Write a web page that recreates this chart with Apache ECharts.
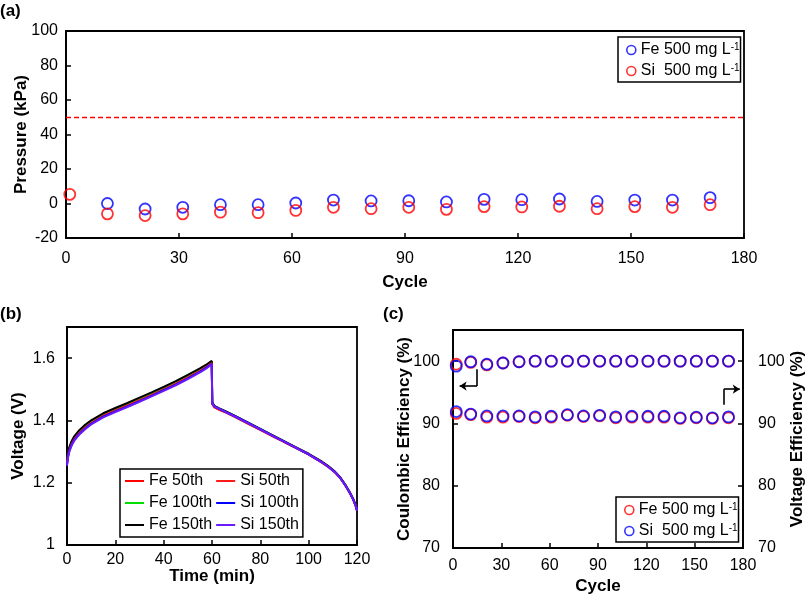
<!DOCTYPE html>
<html>
<head>
<meta charset="utf-8">
<script src="https://cdn.jsdelivr.net/npm/echarts@6/dist/echarts.min.js"></script>
<style>
  html, body { margin: 0; padding: 0; background: #fff; }
  .panel { position: absolute; left: 0; top: 0; width: 807px; height: 598px; }
</style>
</head>
<body>
<div id="pressure" class="panel"></div>
<div id="voltage" class="panel"></div>
<div id="efficiency" class="panel"></div>
<script>
// (a) pressure per cycle (Fe has no visible point at cycle 1)
const pressureCycles = [1, 11, 21, 31, 41, 51, 61, 71, 81, 91, 101, 111, 121, 131, 141, 151, 161, 171];
const pressureFe = [null, 0.0, -3.2, -2.2, -0.7, -0.7, 0.3, 2.0, 1.5, 1.6, 0.9, 2.4, 2.2, 2.6, 1.2, 2.0, 2.0, 3.4];
const pressureSi = [5.3, -6.0, -7.0, -6.0, -5.0, -5.3, -4.0, -2.2, -3.0, -2.2, -3.4, -1.8, -2.0, -1.6, -3.0, -1.8, -2.2, -0.7];
const pressureLimit = 50;

// (b) charge / discharge curves
const timeMin = [0, 0.5, 1, 2, 3, 5, 7.5, 10, 15, 20, 25, 30, 35, 40, 45, 50, 55, 58, 59.9,
  60.1, 61, 63, 66, 70, 75, 80, 85, 90, 95, 100, 105, 108, 111, 113, 115, 117, 118.5, 119.5, 120];
const fe50 = [1.266, 1.293, 1.310, 1.330, 1.344, 1.363, 1.381, 1.396, 1.419, 1.436, 1.452, 1.469, 1.486, 1.504, 1.522, 1.542, 1.563, 1.577, 1.587,
  1.452, 1.442, 1.434, 1.424, 1.409, 1.389, 1.370, 1.350, 1.330, 1.310, 1.290, 1.267, 1.251, 1.232, 1.215, 1.193, 1.167, 1.144, 1.124, 1.110];
const fe100 = [1.268, 1.295, 1.312, 1.332, 1.346, 1.365, 1.383, 1.398, 1.421, 1.438, 1.454, 1.471, 1.488, 1.506, 1.524, 1.544, 1.565, 1.579, 1.589,
  1.457, 1.446, 1.438, 1.427, 1.412, 1.392, 1.372, 1.352, 1.332, 1.312, 1.292, 1.269, 1.253, 1.234, 1.217, 1.195, 1.169, 1.146, 1.126, 1.111];
const fe150 = [1.272, 1.298, 1.315, 1.335, 1.349, 1.368, 1.386, 1.400, 1.423, 1.440, 1.456, 1.473, 1.490, 1.508, 1.526, 1.546, 1.567, 1.581, 1.591,
  1.458, 1.447, 1.439, 1.428, 1.413, 1.393, 1.373, 1.353, 1.333, 1.313, 1.293, 1.270, 1.254, 1.235, 1.218, 1.196, 1.170, 1.147, 1.127, 1.112];
const si50 = [1.262, 1.289, 1.306, 1.326, 1.340, 1.359, 1.377, 1.392, 1.415, 1.432, 1.448, 1.465, 1.482, 1.500, 1.518, 1.538, 1.559, 1.574, 1.584,
  1.453, 1.443, 1.435, 1.425, 1.410, 1.390, 1.370, 1.350, 1.330, 1.311, 1.291, 1.268, 1.252, 1.233, 1.216, 1.194, 1.168, 1.145, 1.125, 1.110];
const si100 = [1.258, 1.286, 1.303, 1.323, 1.337, 1.356, 1.374, 1.389, 1.412, 1.429, 1.445, 1.462, 1.479, 1.497, 1.515, 1.535, 1.556, 1.571, 1.581,
  1.455, 1.445, 1.437, 1.426, 1.411, 1.391, 1.371, 1.351, 1.331, 1.311, 1.291, 1.268, 1.252, 1.233, 1.216, 1.194, 1.168, 1.145, 1.125, 1.111];
const si150 = [1.255, 1.284, 1.301, 1.321, 1.335, 1.354, 1.372, 1.387, 1.410, 1.427, 1.443, 1.460, 1.477, 1.495, 1.513, 1.533, 1.554, 1.569, 1.580,
  1.455, 1.445, 1.437, 1.426, 1.411, 1.391, 1.371, 1.351, 1.331, 1.311, 1.291, 1.268, 1.252, 1.233, 1.216, 1.194, 1.168, 1.145, 1.125, 1.111];

// (c) efficiencies per cycle
const effCycles = [2, 11, 21, 31, 41, 51, 61, 71, 81, 91, 101, 111, 121, 131, 141, 151, 161, 171];
const ceFe = [99.5, 99.8, 99.4, 99.7, 99.9, 100, 100, 100, 100, 100, 100, 100, 100, 100, 100, 100, 100, 100];
const ceSi = [99.2, 99.9, 99.5, 99.7, 99.9, 100, 100, 100, 100, 100, 100, 100, 100, 100, 100, 100, 100, 100];
const veFe = [91.6, 91.4, 91.0, 91.0, 91.1, 90.9, 91.0, 91.3, 91.1, 91.2, 90.9, 91.0, 91.0, 91.0, 90.8, 90.9, 90.8, 90.9];
const veSi = [91.9, 91.5, 91.2, 91.2, 91.2, 91.05, 91.15, 91.4, 91.2, 91.3, 91.05, 91.15, 91.15, 91.15, 90.9, 91.0, 90.9, 91.05];
// arrow guides in (c), in data units: [cycle, %]
const ceArrow = [[14.9, 98.7], [14.9, 96.0], [4.1, 96.0]];
const veArrow = [[168.1, 93.0], [168.1, 95.5], [178, 95.5]];

const FONT = '"Liberation Sans", Arial, sans-serif';
const BLUE = '#0000ff';
const RED = '#ff0000';

function axis({ min, max, interval, name, nameGap, margin, position, hideMax }) {
  return {
    type: 'value',
    position,
    min,
    max,
    interval,
    name,
    nameGap,
    nameMoveOverlap: false,
    nameLocation: 'middle',
    nameTextStyle: { color: '#000', fontSize: 17, fontWeight: 'bold', fontFamily: FONT },
    axisLine: { show: true, onZero: false, lineStyle: { color: '#000', width: 1.8 } },
    axisTick: { show: true, inside: true, length: 5, lineStyle: { color: '#000', width: 1.5 } },
    axisLabel: { color: '#000', fontSize: 16, fontFamily: FONT, margin, showMaxLabel: !hideMax },
    splitLine: { show: false },
  };
}

function frame(left, top, width, height) {
  return { left, top, width, height, show: true, borderColor: '#000', borderWidth: 1.8 };
}

function panelTag(text, left, top) {
  return {
    type: 'text', left, top,
    style: { text, font: 'bold 17px ' + FONT, fill: '#000' },
  };
}

function circles(name, xs, ys, color, extra) {
  return Object.assign({
    name,
    type: 'scatter',
    symbol: 'circle',
    symbolSize: 11,
    itemStyle: { color: 'rgba(0,0,0,0)', borderColor: color, borderWidth: 1.8 },
    data: xs.map((x, i) => (ys[i] === null ? null : [x, ys[i]])).filter((p) => p !== null),
  }, extra || {});
}

function curve(name, ys, color) {
  return {
    name,
    type: 'line',
    symbol: 'none',
    showSymbol: false,
    lineStyle: { color, width: 2 },
    itemStyle: { color },
    data: timeMin.map((t, i) => [t, ys[i]]),
  };
}

function supLegend(left, top, names, colors) {
  return {
    left, top,
    orient: 'vertical',
    itemGap: 5,
    itemWidth: 9,
    itemHeight: 9,
    padding: [5, 1, 3, 8],
    borderColor: '#000',
    borderWidth: 1.5,
    backgroundColor: '#fff',
    formatter: (n) => n.replace(/-1$/, '') + '{s|-1}',
    textStyle: {
      color: '#000', fontSize: 16, fontFamily: FONT,
      rich: { s: { fontSize: 10, lineHeight: 10, verticalAlign: 'top', color: '#000', fontFamily: FONT } },
    },
    data: names.map((n, i) => ({
      name: n,
      icon: 'circle',
      itemStyle: { color: 'rgba(0,0,0,0)', borderColor: colors[i], borderWidth: 1.6 },
    })),
  };
}

function pathLines(points) {
  const segs = [];
  for (let i = 0; i < points.length - 1; i++) {
    const last = i === points.length - 2;
    segs.push([
      { coord: points[i], symbol: 'none' },
      { coord: points[i + 1], symbol: last ? 'arrow' : 'none' },
    ]);
  }
  return segs;
}

const FE_NAME = 'Fe 500 mg L-1';
const SI_NAME = 'Si  500 mg L-1';
const curveNames = ['Fe 50th', 'Fe 100th', 'Fe 150th', 'Si 50th', 'Si 100th', 'Si 150th'];

const pressureChart = echarts.init(document.getElementById('pressure'), null, { renderer: 'canvas' });
pressureChart.setOption({
  animation: false,
  backgroundColor: '#fff',
  textStyle: { fontFamily: FONT },
  grid: frame(66, 31, 678, 207),
  xAxis: axis({ min: 0, max: 180, interval: 30, name: 'Cycle', nameGap: 36, margin: 13 }),
  yAxis: axis({ min: -20, max: 100, interval: 20, name: 'Pressure (kPa)', nameGap: 36, margin: 8 }),
  legend: supLegend(618, 37, [FE_NAME, SI_NAME], [BLUE, RED]),
  graphic: [panelTag('(a)', 0, 3)],
  series: [
    circles(FE_NAME, pressureCycles, pressureFe, BLUE, {
      markLine: {
        silent: true,
        symbol: ['none', 'none'],
        label: { show: false },
        lineStyle: { color: RED, type: [5, 3], width: 1.4 },
        data: [{ yAxis: pressureLimit }],
      },
    }),
    circles(SI_NAME, pressureCycles, pressureSi, RED),
  ],
});

const voltageChart = echarts.init(document.getElementById('voltage'), null, { renderer: 'canvas' });
voltageChart.setOption({
  animation: false,
  textStyle: { fontFamily: FONT },
  grid: frame(67, 327, 290, 218),
  xAxis: axis({ min: 0, max: 120, interval: 20, name: 'Time (min)', nameGap: 23, margin: 7 }),
  yAxis: axis({ min: 1, max: 1.7, interval: 0.2, name: 'Voltage (V)', nameGap: 40, margin: 12, hideMax: true }),
  legend: {
    left: 120, top: 469, height: 64,
    orient: 'vertical',
    itemGap: 4,
    itemWidth: 19,
    itemHeight: 2,
    padding: [3, 4, 3, 5],
    borderColor: '#000',
    borderWidth: 1.5,
    backgroundColor: '#fff',
    textStyle: { color: '#000', fontSize: 16, fontFamily: FONT, lineHeight: 18 },
    data: curveNames.map((n) => ({ name: n, icon: 'rect' })),
  },
  graphic: [panelTag('(b)', 0, 306)],
  series: [
    curve(curveNames[0], fe50, '#ff0000'),
    curve(curveNames[1], fe100, '#00e000'),
    curve(curveNames[2], fe150, '#000000'),
    curve(curveNames[3], si50, '#ff1a1a'),
    curve(curveNames[4], si100, '#0000ff'),
    curve(curveNames[5], si150, '#6a1aff'),
  ],
});

const efficiencyChart = echarts.init(document.getElementById('efficiency'), null, { renderer: 'canvas' });
efficiencyChart.setOption({
  animation: false,
  textStyle: { fontFamily: FONT },
  grid: frame(453, 330, 291, 218),
  xAxis: axis({ min: 0, max: 180, interval: 30, name: 'Cycle', nameGap: 30, margin: 10 }),
  yAxis: [
    axis({ min: 70, max: 105, interval: 10, name: 'Coulombic Efficiency (%)', nameGap: 40, margin: 13, hideMax: true }),
    axis({ min: 70, max: 105, interval: 10, name: 'Voltage Efficiency (%)', nameGap: 46, margin: 15, hideMax: true, position: 'right' }),
  ],
  legend: supLegend(616, 497, [FE_NAME, SI_NAME], [RED, BLUE]),
  graphic: [panelTag('(c)', 383, 306)],
  series: [
    circles(FE_NAME, effCycles, ceFe, RED, {
      markLine: {
        silent: true,
        symbolSize: 7,
        label: { show: false },
        lineStyle: { color: '#000', type: 'solid', width: 1.6 },
        data: pathLines(ceArrow).concat(pathLines(veArrow)),
      },
    }),
    circles(FE_NAME, effCycles, veFe, RED, { yAxisIndex: 1 }),
    circles(SI_NAME, effCycles, ceSi, BLUE),
    circles(SI_NAME, effCycles, veSi, BLUE, { yAxisIndex: 1 }),
  ],
});
</script>
</body>
</html>
